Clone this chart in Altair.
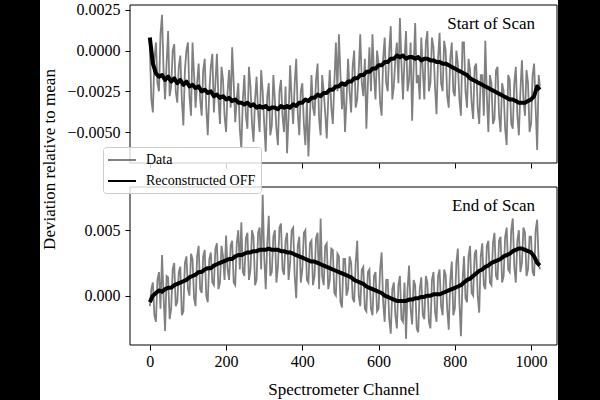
import altair as alt
import pandas as pd

# ---------------- data ----------------
data_channels = list(range(0, 1021, 4)) + [1023]
recon_channels = list(range(0, 1017, 8)) + [1023]

start_data = [
    2e-4, -30e-4, -38e-4, -5e-4, 5e-4, -20e-4, -25e-4, 10e-4,
    22e-4, -12e-4, -30e-4, -8e-4, 12e-4, -28e-4, -22e-4, 0e-4,
    4e-4, -25e-4, -32e-4, -10e-4, -3e-4, -30e-4, -46e-4, -12e-4,
    0e-4, 5e-4, -28e-4, -40e-4, 5e-4, -15e-4, -35e-4, -20e-4,
    -8e-4, -30e-4, -40e-4, -12e-4, -5e-4, -35e-4, -52e-4, -25e-4,
    -10e-4, -2e-4, -38e-4, -20e-4, -2e-4, -30e-4, -45e-4, -10e-4,
    -18e-4, -40e-4, -50e-4, -25e-4, -12e-4, -35e-4, 2e-4, -20e-4,
    -44e-4, -30e-4, -20e-4, -48e-4, -60e-4, -30e-4, -15e-4, -40e-4,
    -48e-4, -10e-4, -22e-4, -45e-4, -56e-4, -30e-4, -16e-4, -38e-4,
    -50e-4, -12e-4, -25e-4, -45e-4, -62e-4, -28e-4, -20e-4, -52e-4,
    -46e-4, -15e-4, -30e-4, -48e-4, -58e-4, -25e-4, -18e-4, -40e-4,
    -50e-4, -22e-4, -63e-4, -40e-4, -9e-4, -30e-4, -45e-4, -20e-4,
    -5e-4, -38e-4, -52e-4, -25e-4, -20e-4, -45e-4, -58e-4, -30e-4,
    -65e-4, -40e-4, -15e-4, -35e-4, -40e-4, -18e-4, -8e-4, -42e-4,
    -52e-4, -15e-4, -25e-4, -38e-4, -54e-4, -30e-4, -12e-4, -35e-4,
    -45e-4, -20e-4, 5e-4, -25e-4, 10e-4, -15e-4, -36e-4, -20e-4,
    -50e-4, -30e-4, -5e-4, -25e-4, -38e-4, -10e-4, 0e-4, -35e-4,
    -30e-4, -12e-4, 10e-4, -20e-4, -28e-4, -5e-4, -48e-4, -20e-4,
    2e-4, -25e-4, 10e-4, -15e-4, -30e-4, 0e-4, -8e-4, -32e-4,
    -40e-4, -5e-4, 8e-4, -20e-4, -25e-4, 0e-4, 15e-4, -30e-4,
    -22e-4, -5e-4, 5e-4, -20e-4, 20e-4, -8e-4, -30e-4, -5e-4,
    12e-4, -25e-4, -18e-4, 5e-4, -43e-4, -10e-4, 17e-4, -20e-4,
    -15e-4, -30e-4, 8e-4, -12e-4, -30e-4, 5e-4, 12e-4, -25e-4,
    -20e-4, 8e-4, 2e-4, -22e-4, -39e-4, -5e-4, 11e-4, -20e-4,
    -25e-4, 6e-4, 0e-4, -28e-4, -35e-4, -5e-4, 5e-4, -25e-4,
    -28e-4, 0e-4, -8e-4, -30e-4, -40e-4, 5e-4, 5e-4, -25e-4,
    -35e-4, -5e-4, -12e-4, -32e-4, -42e-4, -10e-4, -8e-4, -35e-4,
    -45e-4, -15e-4, -15e-4, -40e-4, 6e-4, -28e-4, -50e-4, -15e-4,
    -20e-4, -45e-4, -42e-4, -12e-4, -10e-4, -40e-4, -50e-4, -20e-4,
    -25e-4, -48e-4, -58e-4, -15e-4, -18e-4, -45e-4, -48e-4, -20e-4,
    -10e-4, -40e-4, -52e-4, -25e-4, -6e-4, -30e-4, -40e-4, -12e-4,
    -20e-4, -50e-4, -45e-4, -15e-4, -8e-4, -35e-4, -61e-4, -15e-4,
    -22e-4,
]

start_recon = [
    8e-4, -8e-4, -14e-4, -16e-4, -15e-4, -18e-4, -16e-4, -19e-4,
    -17e-4, -20e-4, -18e-4, -21e-4, -19e-4, -22e-4, -21e-4, -23e-4,
    -22e-4, -25e-4, -24e-4, -26e-4, -25e-4, -28e-4, -27e-4, -29e-4,
    -28e-4, -30e-4, -29e-4, -31e-4, -30e-4, -32e-4, -32e-4, -33e-4,
    -32e-4, -34e-4, -33e-4, -35e-4, -34e-4, -35e-4, -34e-4, -36e-4,
    -35e-4, -35e-4, -36e-4, -34e-4, -35e-4, -34e-4, -35e-4, -33e-4,
    -34e-4, -32e-4, -32e-4, -30e-4, -31e-4, -29e-4, -29e-4, -27e-4,
    -28e-4, -26e-4, -26e-4, -24e-4, -24e-4, -22e-4, -22e-4, -20e-4,
    -21e-4, -19e-4, -19e-4, -17e-4, -17e-4, -15e-4, -15e-4, -13e-4,
    -13e-4, -11e-4, -11e-4, -9e-4, -9e-4, -7e-4, -7e-4, -5e-4,
    -5e-4, -3e-4, -4e-4, -3e-4, -5e-4, -4e-4, -4e-4, -5e-4,
    -4e-4, -6e-4, -5e-4, -5e-4, -6e-4, -6e-4, -7e-4, -7e-4,
    -8e-4, -8e-4, -9e-4, -10e-4, -11e-4, -12e-4, -13e-4, -14e-4,
    -15e-4, -17e-4, -18e-4, -19e-4, -20e-4, -21e-4, -22e-4, -23e-4,
    -24e-4, -25e-4, -26e-4, -27e-4, -28e-4, -29e-4, -30e-4, -30e-4,
    -31e-4, -32e-4, -32e-4, -32e-4, -31e-4, -30e-4, -28e-4, -22e-4,
    -24e-4,
]

end_data = [
    -8e-4, 5e-4, 10e-4, -15e-4, -20e-4, 12e-4, 18e-4, -10e-4,
    31e-4, 0e-4, -27e-4, 15e-4, 14e-4, -18e-4, -10e-4, 20e-4,
    25e-4, -8e-4, -5e-4, 18e-4, 22e-4, -15e-4, -12e-4, 25e-4,
    30e-4, 5e-4, 0e-4, 32e-4, 28e-4, -2e-4, -8e-4, 30e-4,
    38e-4, 5e-4, 2e-4, 30e-4, 35e-4, 0e-4, -5e-4, 28e-4,
    33e-4, 10e-4, 8e-4, 36e-4, 40e-4, 5e-4, 10e-4, 38e-4,
    30e-4, 12e-4, 46e-4, 20e-4, 12e-4, 38e-4, 42e-4, 10e-4,
    8e-4, 40e-4, 50e-4, 20e-4, 56e-4, 18e-4, 15e-4, 44e-4,
    48e-4, 12e-4, 20e-4, 50e-4, 45e-4, 8e-4, 12e-4, 48e-4,
    52e-4, 20e-4, 77e-4, 30e-4, 5e-4, 40e-4, 61e-4, 15e-4,
    18e-4, 45e-4, 50e-4, 10e-4, 22e-4, 52e-4, 55e-4, 20e-4,
    16e-4, 42e-4, 48e-4, 12e-4, 25e-4, 50e-4, 52e-4, 15e-4,
    -2e-4, 38e-4, 45e-4, 10e-4, 20e-4, 48e-4, 50e-4, 12e-4,
    10e-4, 40e-4, 42e-4, 8e-4, 15e-4, 44e-4, 48e-4, 5e-4,
    59e-4, 15e-4, 8e-4, 38e-4, 40e-4, 5e-4, 12e-4, 36e-4,
    35e-4, 2e-4, 0e-4, 32e-4, 30e-4, -5e-4, -9e-4, 28e-4,
    28e-4, 0e-4, 5e-4, 30e-4, 25e-4, -2e-4, -5e-4, 25e-4,
    42e-4, 0e-4, -8e-4, 20e-4, 22e-4, -10e-4, -12e-4, 18e-4,
    20e-4, -10e-4, -15e-4, 15e-4, 18e-4, -12e-4, -10e-4, 20e-4,
    33e-4, -5e-4, -20e-4, 12e-4, 12e-4, -18e-4, -29e-4, 5e-4,
    10e-4, -15e-4, -25e-4, 8e-4, 15e-4, -18e-4, -20e-4, 10e-4,
    -33e-4, 5e-4, 23e-4, -10e-4, -22e-4, 12e-4, 8e-4, -25e-4,
    -28e-4, 5e-4, 14e-4, -15e-4, -18e-4, 15e-4, 10e-4, -20e-4,
    -25e-4, 12e-4, 18e-4, -12e-4, -20e-4, 15e-4, 20e-4, -8e-4,
    -15e-4, 20e-4, 16e-4, -10e-4, -26e-4, 12e-4, 26e-4, -15e-4,
    -10e-4, 25e-4, 36e-4, -5e-4, -31e-4, 10e-4, 30e-4, -2e-4,
    -5e-4, 30e-4, 38e-4, 2e-4, 0e-4, 32e-4, 35e-4, 0e-4,
    -13e-4, 30e-4, 40e-4, 8e-4, 5e-4, 38e-4, 42e-4, 10e-4,
    8e-4, 40e-4, 48e-4, 15e-4, 12e-4, 42e-4, 45e-4, 10e-4,
    15e-4, 45e-4, 52e-4, 20e-4, 18e-4, 50e-4, 59e-4, 22e-4,
    10e-4, 42e-4, 50e-4, 18e-4, 25e-4, 52e-4, 48e-4, 15e-4,
    20e-4, 45e-4, 45e-4, 18e-4, 15e-4, 50e-4, 58e-4, 25e-4,
    20e-4,
]

end_recon = [
    -5e-4, 0e-4, 2e-4, 4e-4, 3e-4, 5e-4, 6e-4, 6e-4,
    8e-4, 9e-4, 10e-4, 11e-4, 12e-4, 14e-4, 15e-4, 16e-4,
    18e-4, 18e-4, 20e-4, 21e-4, 21e-4, 23e-4, 24e-4, 25e-4,
    26e-4, 27e-4, 28e-4, 28e-4, 30e-4, 31e-4, 31e-4, 32e-4,
    33e-4, 33e-4, 34e-4, 34e-4, 35e-4, 35e-4, 35e-4, 36e-4,
    35e-4, 35e-4, 35e-4, 34e-4, 34e-4, 33e-4, 33e-4, 32e-4,
    31e-4, 30e-4, 29e-4, 28e-4, 27e-4, 26e-4, 26e-4, 25e-4,
    24e-4, 23e-4, 22e-4, 21e-4, 20e-4, 19e-4, 18e-4, 17e-4,
    16e-4, 15e-4, 14e-4, 12e-4, 11e-4, 10e-4, 9e-4, 7e-4,
    6e-4, 5e-4, 4e-4, 3e-4, 2e-4, 0e-4, -1e-4, -2e-4,
    -3e-4, -4e-4, -4e-4, -4e-4, -4e-4, -3e-4, -3e-4, -2e-4,
    -2e-4, -1e-4, -1e-4, 0e-4, 0e-4, 1e-4, 1e-4, 1e-4,
    2e-4, 3e-4, 4e-4, 5e-4, 6e-4, 7e-4, 8e-4, 10e-4,
    12e-4, 13e-4, 15e-4, 17e-4, 19e-4, 20e-4, 22e-4, 23e-4,
    25e-4, 26e-4, 27e-4, 28e-4, 30e-4, 31e-4, 32e-4, 34e-4,
    35e-4, 36e-4, 36e-4, 35e-4, 34e-4, 33e-4, 30e-4, 25e-4,
    23e-4,
]

series_names = ["Data", "Reconstructed OFF"]
series_colors = ["#808080", "#000000"]

x_ticks = [0, 200, 400, 600, 800, 1000]
x_domain = [-52, 1068]
start_yticks = [-0.005, -0.0025, 0.0, 0.0025]
start_ydomain = [-0.0069, 0.0028]
end_yticks = [0.0, 0.005]
end_ydomain = [-0.00377, 0.0083]

panel_labels = ["Start of Scan", "End of Scan"]
y_title = "Deviation relative to mean"
x_title = "Spectrometer Channel"

# ---------------- layout / style ----------------
W, H = 427, 158
FONT = "Liberation Serif"
one = pd.DataFrame({"k": [0]})

color_enc = alt.Color(
    "series:N",
    scale=alt.Scale(domain=series_names, range=series_colors),
    legend=alt.Legend(
        title=None, orient="none", legendX=-27, legendY=142,
        direction="vertical",
        fillColor="rgba(255,255,255,0.8)", strokeColor="#cccccc",
        cornerRadius=3, padding=5,
        symbolType="M-2,0H2", symbolSize=196, symbolStrokeWidth=2,
        symbolOffset=6,
        labelFont=FONT, labelFontSize=14, labelColor="black",
        labelOffset=16, rowPadding=6,
    ),
)


def panel(data_vals, recon_vals, yticks, ydomain, yfmt, bottom, label):
    df_d = pd.DataFrame({"channel": data_channels, "value": data_vals, "series": series_names[0]})
    df_r = pd.DataFrame({"channel": recon_channels, "value": recon_vals, "series": series_names[1]})
    xaxis = alt.Axis(
        values=x_ticks, format="d", labels=bottom, grid=False, domain=False,
        tickColor="black", tickSize=5, tickWidth=1,
        labelFont=FONT, labelFontSize=16, labelColor="black", labelPadding=3,
        titleFont=FONT, titleFontSize=17, titleFontWeight="normal",
        titleColor="black", titlePadding=12, zindex=1,
    )
    yaxis = alt.Axis(
        values=yticks, format=yfmt, grid=False, domain=False,
        tickColor="black", tickSize=5, tickWidth=1,
        labelFont=FONT, labelFontSize=16, labelColor="black", labelPadding=5,
        zindex=1,
    )
    x = alt.X("channel:Q", scale=alt.Scale(domain=x_domain, nice=False, zero=False),
              axis=xaxis, title=x_title if bottom else None)
    y = alt.Y("value:Q", scale=alt.Scale(domain=ydomain, nice=False, zero=False),
              axis=yaxis, title=None)

    data_line = alt.Chart(df_d).mark_line(strokeWidth=1.8, clip=True).encode(
        x=x, y=y, color=color_enc)
    recon_line = alt.Chart(df_r).mark_line(strokeWidth=4, strokeJoin="round", clip=True).encode(
        x=x, y=y, color=color_enc)
    box = alt.Chart(one).mark_rect(fillOpacity=0, stroke="black", strokeWidth=1).encode(
        x=alt.value(0), x2=alt.value(W), y=alt.value(0), y2=alt.value(H))
    txt = alt.Chart(one).mark_text(
        text=label, font=FONT, fontSize=17, align="right", baseline="alphabetic",
        color="black").encode(x=alt.value(W - 22), y=alt.value(24))
    return [data_line, recon_line, box, txt]


top_layers = panel(start_data, start_recon, start_yticks, start_ydomain, ".4f", False, panel_labels[0])
bot_layers = panel(end_data, end_recon, end_yticks, end_ydomain, ".3f", True, panel_labels[1])

bg_black = alt.Chart(one).mark_rect(color="black").encode(
    x=alt.value(-130), x2=alt.value(470), y=alt.value(-5), y2=alt.value(395))
bg_white = alt.Chart(one).mark_rect(color="white").encode(
    x=alt.value(-90), x2=alt.value(428), y=alt.value(-5), y2=alt.value(395))
ytitle = alt.Chart(one).mark_text(
    text=y_title, font=FONT, fontSize=17, angle=270, align="center",
    baseline="middle", color="black").encode(x=alt.value(-80), y=alt.value(154.5))

top = alt.layer(bg_black, bg_white, *top_layers, ytitle).properties(width=W, height=H)
bottom = alt.layer(*bot_layers).properties(width=W, height=H)

chart = alt.vconcat(top, bottom, spacing=24, bounds="flush").properties(
    padding=0, background="white"
).configure_view(stroke=None)

chart.save("out.html", embed_options={"renderer": "svg", "actions": False})
